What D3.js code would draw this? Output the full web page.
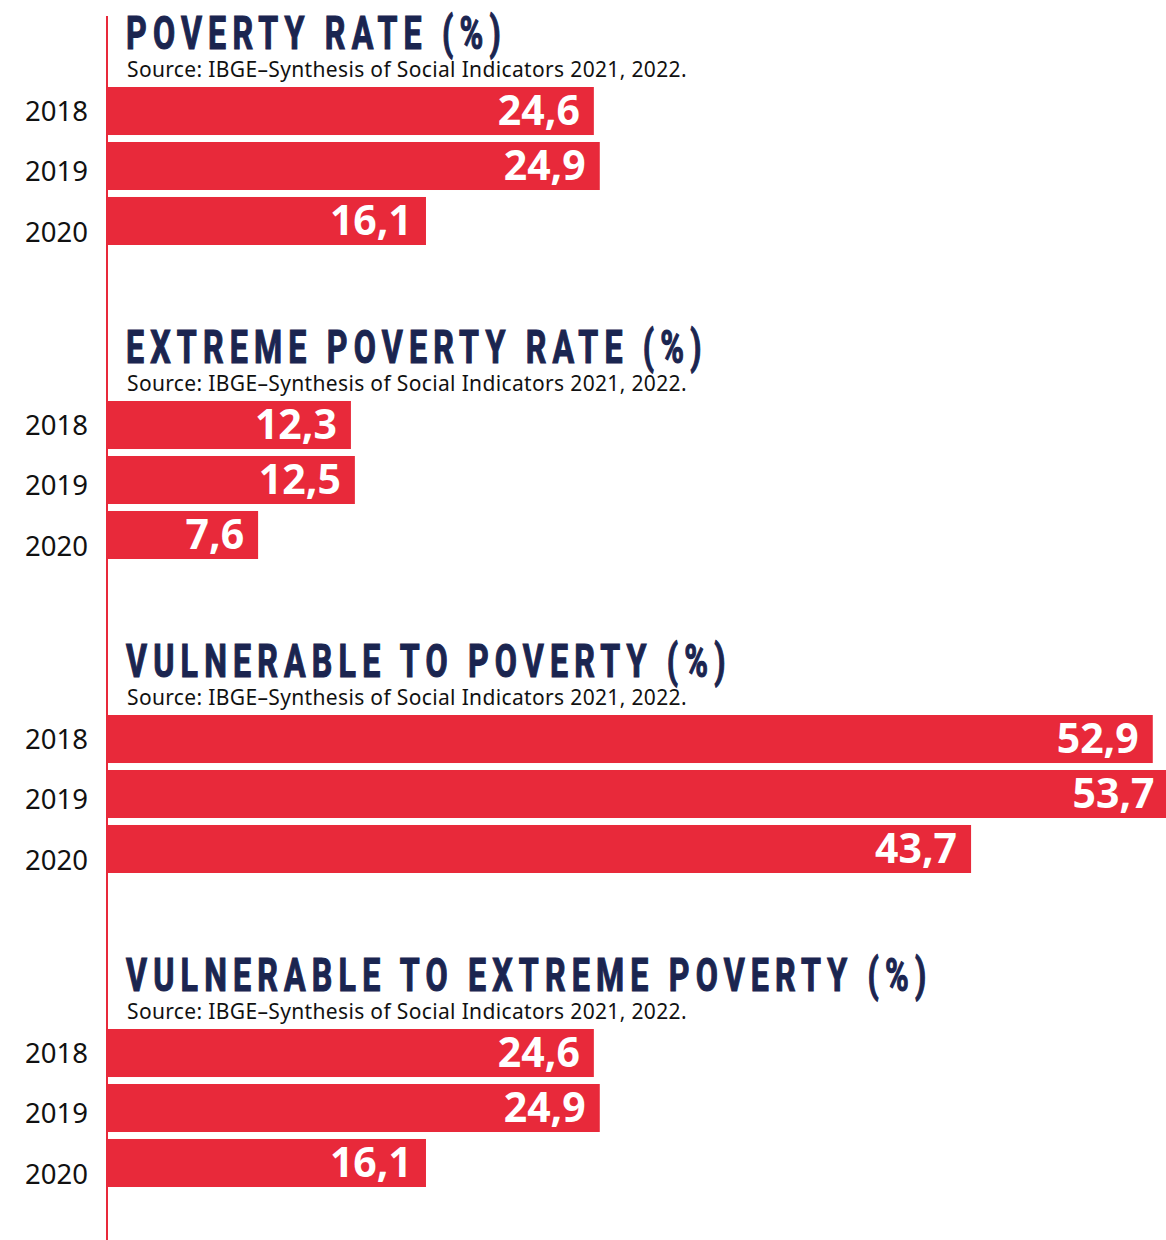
<!DOCTYPE html>
<html lang="en">
<head>
    <meta charset="UTF-8">
    <title>Poverty in Brazil</title>
    <script src="https://d3js.org/d3.v7.min.js"></script>
    <style>
        body { margin: 0; background: #fff; }
        svg { display: block; }
    </style>
</head>
<body>
    <div id="chart"></div>
    <script>
        // data
        const years = ["2018", "2019", "2020"];
        const titles = [
            "POVERTY RATE (%)",
            "EXTREME POVERTY RATE (%)",
            "VULNERABLE TO POVERTY (%)",
            "VULNERABLE TO EXTREME POVERTY (%)"
        ];
        const povertyRate = [24.6, 24.9, 16.1];
        const extremePovertyRate = [12.3, 12.5, 7.6];
        const vulnerablePoverty = [52.9, 53.7, 43.7];
        const vulnerableExtreme = [24.6, 24.9, 16.1];
        const source = "Source: IBGE\u2013Synthesis of Social Indicators 2021, 2022.";

        const series = [povertyRate, extremePovertyRate, vulnerablePoverty, vulnerableExtreme];

        const width = 1166, height = 1240;
        const x0 = 108;
        const red = "#e8293a", navy = "#1b2550";

        const fmt = d3.formatLocale({decimal: ",", thousands: ".", grouping: [3], currency: ["", ""]}).format(".1f");

        const x = d3.scaleLinear().domain([0, 53.7]).range([x0, x0 + 53.7 * 19.75]);

        const svg = d3.select("#chart").append("svg")
            .attr("width", width)
            .attr("height", height);

        series.forEach((vals, i) => {
            const top = 87 + 314 * i;
            const g = svg.append("g");

            const y = d3.scaleBand()
                .domain(years)
                .range([top, top + 158])
                .paddingInner(0.127)
                .paddingOuter(0);

            // year labels sit on a slightly looser grid than the bars
            const yLab = d3.scalePoint()
                .domain(years)
                .range([top + 24, top + 24 + 120.6]);

            // condensed title: regular bold face squeezed horizontally
            g.append("text")
                .attr("transform", `translate(126,${top - 38}) scale(0.685,0.97)`)
                .attr("fill", navy)
                .attr("stroke", navy)
                .attr("stroke-width", 1.2)
                .attr("font-family", "Roboto, 'DejaVu Sans', sans-serif")
                .attr("font-weight", "bold")
                .attr("font-size", 47)
                .attr("letter-spacing", 9)
                .text(titles[i]);

            g.append("text")
                .attr("x", 127)
                .attr("y", top - 10)
                .attr("fill", "#111")
                .attr("font-family", "'Noto Sans', sans-serif")
                .attr("font-size", 21)
                .attr("letter-spacing", 0.35)
                .text(source);

            const rows = g.selectAll("g.row")
                .data(vals)
                .enter().append("g")
                .attr("class", "row");

            rows.append("rect")
                .attr("x", x(0))
                .attr("y", (d, j) => y(years[j]))
                .attr("width", d => x(d) - x(0))
                .attr("height", y.bandwidth())
                .attr("fill", red);

            rows.append("text")
                .attr("x", 88)
                .attr("y", (d, j) => yLab(years[j]) + 10)
                .attr("text-anchor", "end")
                .attr("fill", "#111")
                .attr("font-family", "'Noto Sans', sans-serif")
                .attr("font-size", 27.5)
                .text((d, j) => years[j]);

            rows.append("text")
                .attr("x", d => x(d) - 14)
                .attr("y", (d, j) => y(years[j]) + y.bandwidth() / 2 + 14)
                .attr("text-anchor", "end")
                .attr("fill", "#fff")
                .attr("font-family", "'Noto Sans', sans-serif")
                .attr("font-weight", "bold")
                .attr("font-size", 41)
                .text(d => fmt(d));
        });

        // vertical red baseline
        svg.append("line")
            .attr("x1", x0 - 1).attr("x2", x0 - 1)
            .attr("y1", 16).attr("y2", height)
            .attr("stroke", red)
            .attr("stroke-width", 2);
    </script>
</body>
</html>
